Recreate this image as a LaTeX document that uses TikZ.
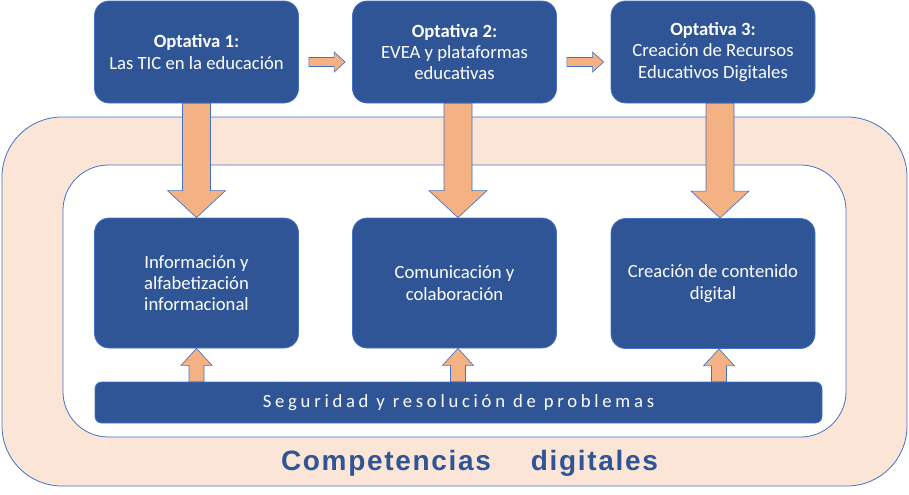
\documentclass[tikz,border=0pt]{standalone}
\usepackage{fontspec}
\setmainfont{Carlito}
\newfontfamily\compfont{Liberation Sans}[LetterSpace=6]
\newfontfamily\barfont{Carlito}[LetterSpace=20]
\usetikzlibrary{calc}
\definecolor{boxblue}{HTML}{2F5597}
\definecolor{lineblue}{HTML}{4472C4}
\definecolor{peach}{HTML}{F4B183}
\definecolor{bandpeach}{HTML}{FBE5D6}
\tikzset{
  box/.style={draw=lineblue, line width=0.6pt, fill=boxblue, text=white, rounded corners=11pt,
    minimum width=153pt, align=center, font=\fontsize{14}{16}\selectfont, inner sep=2pt},
  topbox/.style={box, minimum height=76.5pt},
  compbox/.style={box, minimum height=97.5pt},
  barrow/.style={draw=lineblue, line width=0.5pt, fill=peach, line join=miter},
  band/.style={draw=lineblue, line width=0.6pt},
}
\newcommand{\hblockarrow}[2]{%
  \draw[barrow] ($(#1)+(0,-4.5)$) -- ($(#2)+(-11,-4.5)$) -- ($(#2)+(-11,-10)$) -- (#2)
    -- ($(#2)+(-11,10)$) -- ($(#2)+(-11,4.5)$) -- ($(#1)+(0,4.5)$) -- cycle;}
\newcommand{\vblockarrow}[5]{%
  \draw[barrow] ($(#1)+(-#3,0)$) -- ($(#2)+(-#3,#5)$) -- ($(#2)+(-#4,#5)$) -- (#2)
    -- ($(#2)+(#4,#5)$) -- ($(#2)+(#3,#5)$) -- ($(#1)+(#3,0)$) -- cycle;}
\begin{document}
\begin{tikzpicture}[x=0.75pt,y=-0.75pt]
\useasboundingbox (0,0) rectangle (909,494);
% frame band
\draw[band, fill=bandpeach, rounded corners=45pt] (2,117) rectangle (907,486);
\draw[band, fill=white, rounded corners=34pt] (63,165) rectangle (846,437);
% top boxes
\node[topbox] (o1) at (196.5,52) {\textbf{Optativa 1:}\\Las TIC en la educación};
\node[topbox] (o2) at (454.5,52) {\textbf{Optativa 2:}\\EVEA y plataformas\\educativas};
\node[topbox] (o3) at (713,52) {\textbf{Optativa 3:}\\Creación de Recursos\\Educativos Digitales};
% competence boxes
\node[compbox] (c1) at (196.5,283) {Información y\\alfabetización\\informacional};
\node[compbox] (c2) at (454.5,283) {Comunicación y\\colaboración};
\node[compbox] (c3) at (713,283.5) {Creación de contenido\\digital};
% bottom bar
\node[box, minimum width=545.25pt, minimum height=30.75pt, rounded corners=5pt] (bar) at (458.5,402.5)
  {\barfont Seguridad y resolución de problemas};
% title
\node[text=boxblue, font=\compfont\bfseries\fontsize{21}{24}\selectfont] (comp) at (469.5,463)
  {Competencias\hspace{30pt}digitales};
% horizontal arrows
\coordinate (h1s) at ($(o1.east)+(10,10)$);
\coordinate (h1e) at ($(o2.west)+(-7,10)$);
\coordinate (h2s) at ($(o2.east)+(10,10)$);
\coordinate (h2e) at ($(o3.west)+(-7,10)$);
\hblockarrow{h1s}{h1e}
\hblockarrow{h2s}{h2e}
% down arrows
\coordinate (d1s) at (o1.south);
\coordinate (d1e) at (c1.north);
\coordinate (d2s) at ($(o2.south)+(3.5,0)$);
\coordinate (d2e) at ($(c2.north)+(3.5,0)$);
\coordinate (d3s) at ($(o3.south)+(7,0)$);
\coordinate (d3e) at ($(c3.north)+(7,0)$);
\vblockarrow{d1s}{d1e}{14}{29}{-27}
\vblockarrow{d2s}{d2e}{14}{29}{-27}
\vblockarrow{d3s}{d3e}{14}{29}{-27}
% up arrows
\coordinate (u1e) at (c1.south);
\coordinate (u2e) at ($(c2.south)+(3.5,0)$);
\coordinate (u3e) at ($(c3.south)+(6,0)$);
\coordinate (u1s) at (u1e |- bar.north);
\coordinate (u2s) at (u2e |- bar.north);
\coordinate (u3s) at (u3e |- bar.north);
\vblockarrow{u1s}{u1e}{7.5}{15.5}{17}
\vblockarrow{u2s}{u2e}{7.5}{15.5}{17}
\vblockarrow{u3s}{u3e}{7.5}{15.5}{17}
\end{tikzpicture}
\end{document}
